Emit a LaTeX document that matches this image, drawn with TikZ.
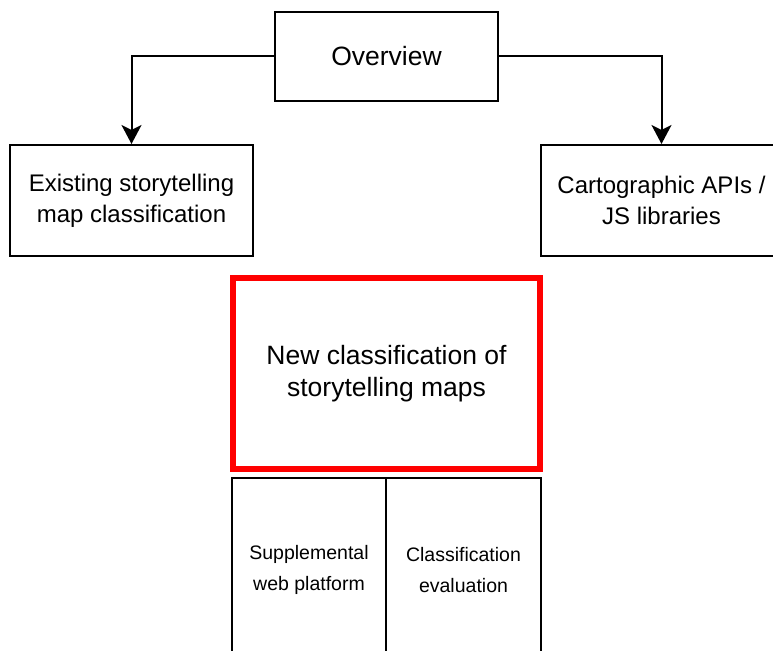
\documentclass[tikz,border=0pt]{standalone}
\usepackage{fontspec}
\setmainfont{Liberation Sans}
\usetikzlibrary{arrows.meta}
\begin{document}
\begin{tikzpicture}[x=1pt,y=-1pt,
  box/.style={draw=black,line width=2pt,rectangle,inner sep=0pt,align=center},
  arr/.style={line width=2pt,draw=black,-{Stealth[length=19pt,width=20pt,inset=5pt]}},
  bigtxt/.style={font=\fontsize{26.5}{32}\selectfont},
  midtxt/.style={font=\fontsize{24}{31}\selectfont},
  smalltxt/.style={font=\fontsize{19.5}{31}\selectfont}]
\clip (0,0) rectangle (773,650);
\fill[white] (0,0) rectangle (773,650);
\node[box,bigtxt,minimum width=223pt,minimum height=89pt] (ov) at (386.5,56.5) {Overview};
\node[box,midtxt,minimum width=243pt,minimum height=111pt] (left) at (131.5,200.5) {\raisebox{-3pt}{Existing storytelling}\\\raisebox{-3pt}{map classification}};
\node[box,midtxt,minimum width=241pt,minimum height=111pt] (right) at (661.5,200.5) {Cartographic APIs /\\JS libraries};
\node[box,draw=red,line width=6pt,bigtxt,minimum width=307pt,minimum height=191pt] (new) at (386.5,373.5) {\raisebox{-3pt}{New classification of}\\\raisebox{-3pt}{storytelling maps}};
\node[box,smalltxt,minimum width=154pt,minimum height=184pt] (sup) at (309,570) {Supplemental\\web platform};
\node[box,smalltxt,minimum width=155pt,minimum height=184pt] (eval) at (463.5,570) {Classification\\evaluation};
\draw[arr] (ov.west) -| (left.north);
\draw[arr] (ov.east) -| (right.north);
\end{tikzpicture}
\end{document}
